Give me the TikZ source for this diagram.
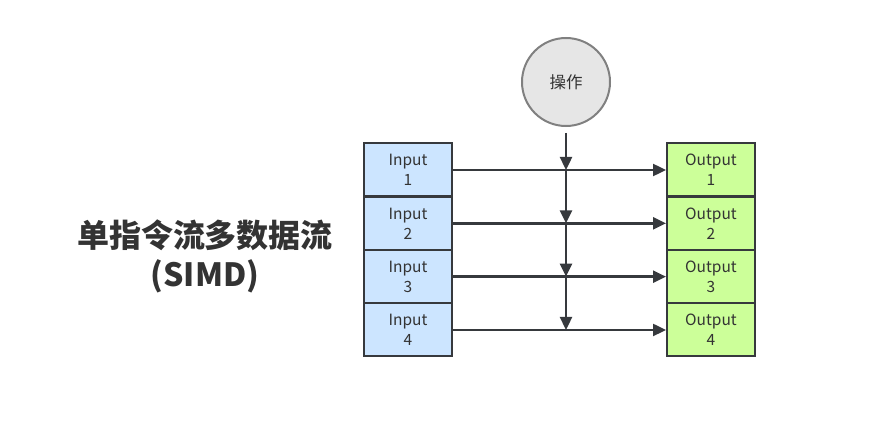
\documentclass[tikz,border=0pt]{standalone}
\usepackage{fontspec}
\setmainfont{Noto Sans CJK SC}
\usepackage{tikz}
\usetikzlibrary{arrows.meta}

\definecolor{inblue}{RGB}{204,229,255}
\definecolor{outgreen}{RGB}{204,255,153}
\definecolor{opgray}{RGB}{230,230,230}
\definecolor{edgegray}{RGB}{54,57,61}
\definecolor{textgray}{RGB}{51,51,51}

\tikzset{
  inbox/.style={draw=edgegray, line width=2pt, fill=inblue, minimum width=88pt,
    minimum height=53pt, align=center, text=textgray,
    font=\fontsize{15.5}{20}\selectfont, inner sep=0pt},
  outbox/.style={inbox, fill=outgreen},
  opnode/.style={circle, draw=gray, line width=2pt, fill=opgray, minimum size=88pt,
    text=textgray, font=\fontsize{16.5}{18}\selectfont},
  arr/.style={draw=edgegray, line width=2.4pt, -{Triangle[length=13pt,width=12pt]}}
}

\begin{document}
\begin{tikzpicture}[x=1pt,y=-1pt]
  \useasboundingbox (0,0) rectangle (884,433);

  % title
  \node[align=center, text=textgray, font=\bfseries\fontsize{32}{39}\selectfont] (title) at (205,256)
    {单指令流多数据流\\(SIMD)};

  % operation
  \node[opnode] (op) at (566,82) {操作};
  \coordinate (v0) at (566,133);

  % input and output lanes
  \foreach \i in {1,...,4} {
    \pgfmathsetmacro{\ypos}{170+53.33*(\i-1)}
    \node[inbox] (in\i) at (408,\ypos) {Input\\\i};
    \node[outbox] (out\i) at (711,\ypos) {Output\\\i};
    \coordinate (v\i) at (566,\ypos);
    \draw[arr] (in\i.east) -- (out\i.west);
  }

  % operation applied to every lane
  \foreach \i [count=\j from 0] in {1,...,4}
    \draw[arr] (v\j) -- (v\i);
\end{tikzpicture}
\end{document}
